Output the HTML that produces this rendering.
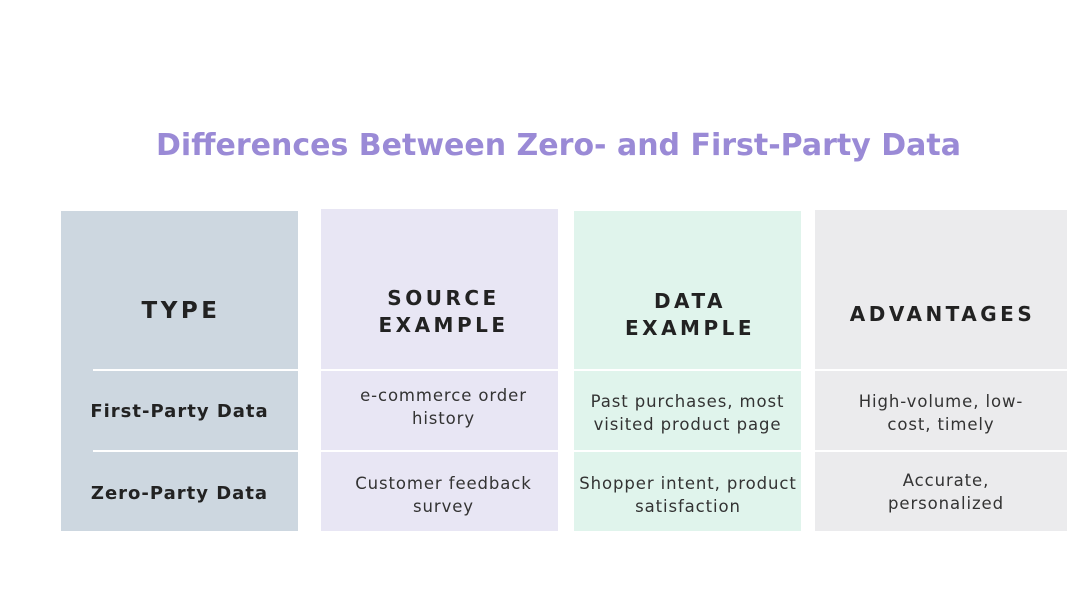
<!DOCTYPE html>
<html><head><style>
body{margin:0;width:1080px;height:608px;background:#fff;position:relative;overflow:hidden;font-family:"DejaVu Sans","Liberation Sans",sans-serif;}
.b{position:absolute;}
.t{position:absolute;text-align:center;color:#333;font-size:16.5px;letter-spacing:0.9px;line-height:23px;}
.h{position:absolute;text-align:center;color:#222;font-weight:bold;font-size:20px;letter-spacing:3.5px;line-height:27px;}
.r{position:absolute;text-align:center;color:#222;font-weight:bold;font-size:18px;letter-spacing:1px;}
.sep{position:absolute;height:2px;background:#fff;}
</style></head><body>
<div class="b" style="left:0;top:128px;width:1117px;text-align:center;font-weight:bold;font-size:30px;color:#9a8ad6;font-family:'DejaVu Sans',sans-serif;">Differences Between Zero- and First-Party Data</div>

<div class="b" style="left:61px;top:211px;width:237px;height:320px;background:#cdd7e0"></div>
<div class="b" style="left:321px;top:209px;width:237px;height:322px;background:#e8e6f4"></div>
<div class="b" style="left:574px;top:211px;width:227px;height:320px;background:#e0f4ec"></div>
<div class="b" style="left:815px;top:210px;width:252px;height:321px;background:#ebebed"></div>

<div class="sep" style="left:93px;top:369px;width:205px"></div>
<div class="sep" style="left:93px;top:450px;width:205px"></div>
<div class="sep" style="left:315px;top:369px;width:760px"></div>
<div class="sep" style="left:315px;top:450px;width:760px"></div>
<div class="b" style="left:298px;top:200px;width:23px;height:340px;background:#fff"></div>
<div class="b" style="left:558px;top:200px;width:16px;height:340px;background:#fff"></div>
<div class="b" style="left:801px;top:200px;width:14px;height:340px;background:#fff"></div>

<div class="h" style="left:61px;width:240px;top:298px;font-size:23px;">TYPE</div>
<div class="h" style="left:321px;width:245px;top:285px;">SOURCE<br>EXAMPLE</div>
<div class="h" style="left:574px;width:232px;top:288px;">DATA<br>EXAMPLE</div>
<div class="h" style="left:815px;width:255px;top:301px;">ADVANTAGES</div>

<div class="r" style="left:61px;width:237px;top:401px;">First-Party Data</div>
<div class="r" style="left:61px;width:237px;top:483px;">Zero-Party Data</div>

<div class="t" style="left:321px;width:245px;top:384px;">e-commerce order<br>history</div>
<div class="t" style="left:321px;width:245px;top:472px;">Customer feedback<br>survey</div>
<div class="t" style="left:574px;width:227px;top:390px;">Past purchases, most<br>visited product page</div>
<div class="t" style="left:564px;width:248px;top:472px;">Shopper intent, product<br>satisfaction</div>
<div class="t" style="left:815px;width:252px;top:390px;">High-volume, low-<br>cost, timely</div>
<div class="t" style="left:815px;width:262px;top:469px;">Accurate,<br>personalized</div>
</body></html>
